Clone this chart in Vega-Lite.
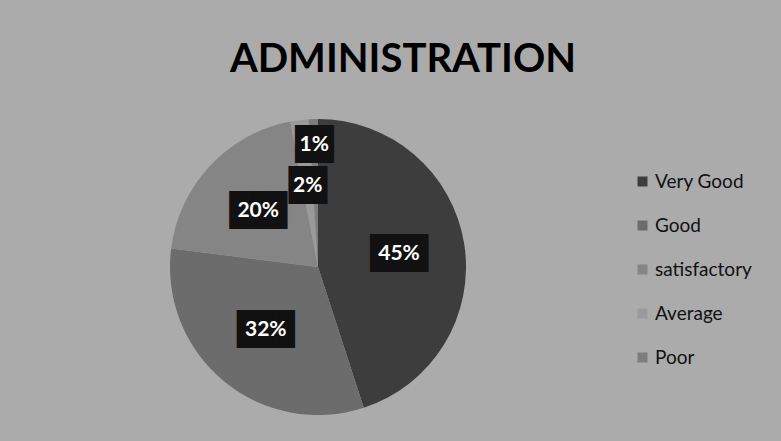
{
  "$schema": "https://vega.github.io/schema/vega-lite/v6.json",
  "width": 296,
  "height": 296,
  "autosize": {"type": "none"},
  "padding": {"left": 170, "top": 119, "right": 315, "bottom": 26},
  "background": "#ababab",
  "config": {"view": {"stroke": null}},
  "title": {
    "text": "ADMINISTRATION",
    "font": "Lato",
    "fontSize": 40,
    "fontWeight": "bold",
    "color": "#000000",
    "anchor": "middle",
    "frame": "group",
    "baseline": "alphabetic",
    "offset": 7,
    "dx": 85
  },
  "data": {
    "values": [
      {"category": "Very Good", "pct": 0.45, "idx": 1},
      {"category": "Good", "pct": 0.32, "idx": 2},
      {"category": "satisfactory", "pct": 0.20, "idx": 3},
      {"category": "Average", "pct": 0.02, "idx": 4},
      {"category": "Poor", "pct": 0.01, "idx": 5}
    ]
  },
  "encoding": {
    "theta": {"field": "pct", "type": "quantitative", "stack": true},
    "order": {"field": "idx", "type": "quantitative"}
  },
  "layer": [
    {
      "mark": {"type": "arc", "stroke": null},
      "encoding": {
        "color": {
          "field": "category",
          "type": "nominal",
          "sort": ["Very Good", "Good", "satisfactory", "Average", "Poor"],
          "scale": {
            "domain": ["Very Good", "Good", "satisfactory", "Average", "Poor"],
            "range": ["#3d3d3d", "#6c6c6c", "#858585", "#9a9a9a", "#7d7d7d"]
          },
          "legend": {
            "title": null,
            "orient": "none",
            "legendX": 463,
            "legendY": 53,
            "symbolType": "square",
            "symbolSize": 100,
            "symbolStrokeWidth": 0,
            "labelFont": "Lato",
            "labelFontSize": 19,
            "labelColor": "#111111",
            "labelOffset": 3,
            "rowPadding": 24
          }
        }
      }
    },
    {
      "mark": {
        "type": "text",
        "font": "DejaVu Sans Mono",
        "fontSize": 32,
        "color": "#111111",
        "baseline": "middle",
        "align": "center",
        "radius": {"expr": "datum.idx == 5 ? 122 : 82"}
      },
      "encoding": {
        "text": {"condition": {"test": "datum.pct < 0.1", "value": "██"}, "value": "███"}
      }
    },
    {
      "mark": {
        "type": "text",
        "font": "Lato",
        "fontSize": 21,
        "fontWeight": "bold",
        "color": "#ffffff",
        "baseline": "middle",
        "align": "center",
        "radius": {"expr": "datum.idx == 5 ? 122 : 82"}
      },
      "encoding": {
        "text": {"field": "pct", "type": "quantitative", "format": ".0%"}
      }
    }
  ]
}
